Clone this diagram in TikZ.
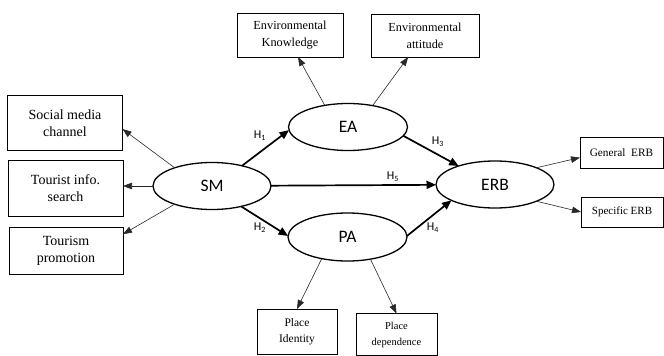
\documentclass[tikz,border=0pt]{standalone}
\usepackage{fontspec}
\setmainfont{Liberation Serif}
\newfontfamily\timesf{Liberation Serif}
\newfontfamily\calib{Carlito}
\usepackage{tikz}
\usetikzlibrary{shapes.geometric,arrows.meta,positioning,calc}
\definecolor{linegrey}{RGB}{40,40,40}
\tikzset{
    ibox/.style={draw, line width=0.7pt, inner sep=0pt, outer sep=0pt,
                 minimum width=#1, align=center},
    lvar/.style={draw, ellipse, line width=1.3pt, inner sep=0pt, outer sep=0pt,
                 minimum width=118pt, minimum height=47pt,
                 font=\calib\fontsize{17.5}{20}\selectfont},
    hlab/.style={font=\calib\fontsize{12}{14}\selectfont, inner sep=0pt},
}

\begin{document}
\begin{tikzpicture}[
    x=1pt, y=-1pt,
    load/.style={line width=0.6pt, linegrey, -{Triangle[length=9pt,width=6.5pt]}},
    path/.style={line width=1.7pt, -{Triangle[length=9.5pt,width=8pt]}}
]
    \useasboundingbox (0,0) rectangle (664,356);

    % latent variables
    \node[lvar] (sm) at (212,186) {SM};
    \node[lvar, minimum width=119pt] (ea) at (348,127) {EA};
    \node[lvar, minimum width=119pt, minimum height=48pt] (pa) at (347.5,237) {PA};
    \node[lvar] (erb) at (495,184.5) {ERB};

    % indicators
    \node[ibox=115pt, minimum height=55pt, font=\timesf\fontsize{14}{17}\selectfont]
        (smc) at (65,123) {Social media\\channel};
    \node[ibox=115pt, minimum height=56pt, font=\timesf\fontsize{14}{17}\selectfont]
        (tis) at (65.5,188) {Tourist info.\\search};
    \node[ibox=114pt, minimum height=47pt, font=\timesf\fontsize{14}{17}\selectfont]
        (tp) at (66,250.5) {Tourism\\promotion};
    \node[ibox=106pt, minimum height=44pt, font=\timesf\fontsize{12.3}{17}\selectfont]
        (ek) at (290,35) {Environmental\\Knowledge};
    \node[ibox=108pt, minimum height=43pt, font=\timesf\fontsize{12.3}{17}\selectfont]
        (eat) at (425,35.5) {Environmental\\attitude};
    \node[ibox=83pt, minimum height=31pt, font=\timesf\fontsize{11.3}{14}\selectfont]
        (gerb) at (621.5,152.5) {General\ \ ERB};
    \node[ibox=82pt, minimum height=30pt, font=\timesf\fontsize{11}{14}\selectfont]
        (serb) at (622,212) {Specific ERB};
    \node[ibox=80pt, minimum height=45pt, font=\timesf\fontsize{11.5}{16}\selectfont]
        (pid) at (297,331.5) {Place\\Identity};
    \node[ibox=81pt, minimum height=42pt, font=\timesf\fontsize{10.5}{16}\selectfont]
        (pdep) at (396.5,334.5) {Place\\dependence};

    % measurement arrows
    \draw[load] (sm.154) -- (smc.-6);
    \draw[load] (sm.west) -- (sm.west -| tis.east);
    \draw[load] (sm.206) -- (tp.16);
    \draw[load] (ea.137) -- (ek.-70);
    \draw[load] (ea.41) -- (eat.232);
    \draw[load] (pa.220) -- (pid.north);
    \draw[load] (pa.-44) -- (pdep.north);
    \draw[load] (erb.22) -- (gerb.187);
    \draw[load] (erb.-22) -- (serb.west);

    % structural paths
    \draw[path] (sm.34) -- (ea.183);
    \draw[path] (sm) -- (erb);
    \draw[path] (sm.-35) -- (pa.179);
    \draw[path] (ea.-9) -- (erb.153);
    \draw[path] (pa.1) -- (erb.200);

    \node[hlab] (h1) at (260,136) {H\textsubscript{1}};
    \node[hlab] (h2) at (260,228) {H\textsubscript{2}};
    \node[hlab] (h3) at (438,142) {H\textsubscript{3}};
    \node[hlab] (h4) at (433,228) {H\textsubscript{4}};
    \node[hlab] (h5) at (393,177) {H\textsubscript{5}};
\end{tikzpicture}
\end{document}
